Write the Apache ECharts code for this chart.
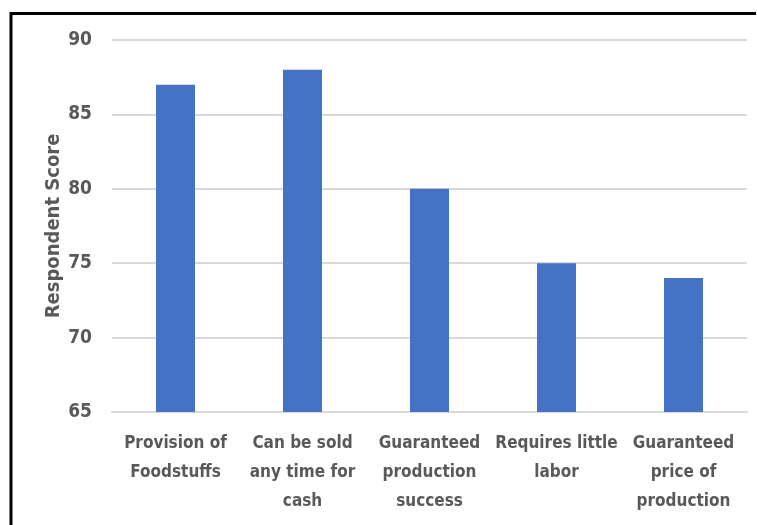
<!DOCTYPE html>
<html>
<head>
<meta charset="utf-8">
<script src="https://cdn.jsdelivr.net/npm/echarts@6/dist/echarts.min.js"></script>
<style>
  html, body { margin: 0; padding: 0; background: #fff; }
  #chart { width: 757px; height: 525px; }
</style>
</head>
<body>
<div id="chart"></div>
<script>
// Attributes rated by respondents and their scores
const categories = [
  'Provision of\nFoodstuffs',
  'Can be sold\nany time for\ncash',
  'Guaranteed\nproduction\nsuccess',
  'Requires little\nlabor',
  'Guaranteed\nprice of\nproduction'
];
const scores = [87, 88, 80, 75, 74];
const yTicks = { min: 65, max: 90, step: 5 };

const FONT = '"DejaVu Sans Condensed", sans-serif';
const TEXT_COLOR = '#595959';

const chart = echarts.init(document.getElementById('chart'), null, { renderer: 'canvas' });
chart.setOption({
  animation: false,
  backgroundColor: '#fff',
  grid: { left: 112, right: 10, top: 40, bottom: 113, containLabel: false },
  graphic: [
    { type: 'line', shape: { x1: 10, y1: 13.5, x2: 756, y2: 13.5 }, style: { stroke: '#000', lineWidth: 3 } },
    { type: 'line', shape: { x1: 11, y1: 12, x2: 11, y2: 525 }, style: { stroke: '#000', lineWidth: 3 } }
  ],
  xAxis: {
    type: 'category',
    data: categories,
    axisLine: { show: true, lineStyle: { color: '#d9d9d9', width: 2 } },
    axisTick: { show: false },
    axisLabel: {
      interval: 0,
      color: TEXT_COLOR,
      fontFamily: FONT,
      fontWeight: 'bold',
      fontSize: 17,
      lineHeight: 29,
      margin: 17
    }
  },
  yAxis: {
    type: 'value',
    min: yTicks.min,
    max: yTicks.max,
    interval: yTicks.step,
    name: 'Respondent Score',
    nameLocation: 'middle',
    nameGap: 48,
    nameMoveOverlap: false,
    nameTextStyle: { color: TEXT_COLOR, fontFamily: FONT, fontWeight: 'bold', fontSize: 20 },
    axisLine: { show: false },
    axisTick: { show: false },
    axisLabel: { color: TEXT_COLOR, fontFamily: FONT, fontWeight: 'bold', fontSize: 19, margin: 20 },
    splitLine: { lineStyle: { color: '#d9d9d9', width: 2 } }
  },
  series: [{
    type: 'bar',
    data: scores,
    barWidth: 39,
    itemStyle: { color: '#4472c4' }
  }]
});
</script>
</body>
</html>
